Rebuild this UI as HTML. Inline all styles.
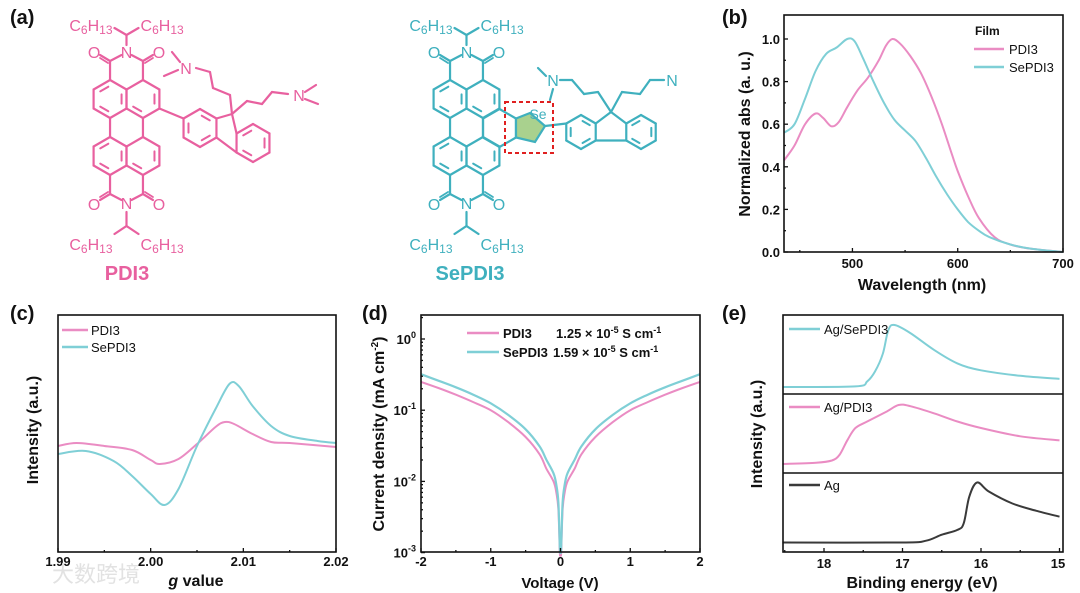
<!DOCTYPE html>
<html><head><meta charset="utf-8">
<style>
html,body{margin:0;padding:0;background:#fff;}
svg{display:block;font-family:"Liberation Sans","Noto Sans CJK SC",sans-serif;}
.t{font-weight:bold;fill:#111;}
</style></head>
<body>
<svg id="fig" width="1080" height="593" viewBox="0 0 1080 593" xmlns="http://www.w3.org/2000/svg">
<rect width="1080" height="593" fill="#fff"/>
<text x="10" y="24" class="t" font-size="20" fill="#333">(a)</text>
<text x="722" y="24" class="t" font-size="20">(b)</text>
<text x="10" y="320" class="t" font-size="20">(c)</text>
<text x="362" y="320" class="t" font-size="20">(d)</text>
<text x="722" y="320" class="t" font-size="20">(e)</text>
<g id="mol"></g>
<g id="charts"></g>
</svg>
<script>
// ---------- Panel (b) data ----------
const absPdiWl = [435,445,455,465,472,480,487,495,505,515,525,532,538,545,555,565,575,585,595,600,610,620,635,650,670,700];
const absPdiVal = [0.43,0.5,0.6,0.65,0.63,0.59,0.61,0.68,0.76,0.82,0.9,0.97,1.0,0.98,0.92,0.84,0.73,0.6,0.45,0.38,0.26,0.16,0.07,0.035,0.015,0.0];
const absSeWl = [435,445,455,465,475,485,495,502,510,520,530,540,550,560,570,580,590,600,610,620,630,650,670,700];
const absSeVal = [0.56,0.6,0.72,0.85,0.93,0.96,1.0,0.99,0.91,0.8,0.7,0.62,0.57,0.52,0.44,0.35,0.27,0.2,0.14,0.1,0.07,0.035,0.015,0.0];
const bXTicks = [500,600,700];
const bYTicks = [0,0.2,0.4,0.6,0.8,1.0];
// ---------- Panel (c) data ----------
const epdG = [1.99,1.992,1.995,1.998,2.0,2.001,2.003,2.005,2.007,2.008,2.009,2.011,2.013,2.015,2.02];
const epdPdi = [3,6,3,-1,-11,-15,-10,5,22,27,25,15,7,6,2];
const epsG = [1.99,1.993,1.996,1.998,2.0,2.0015,2.003,2.005,2.007,2.0085,2.0095,2.011,2.013,2.015,2.018,2.02];
const epsSe = [-5,-2,-12,-27,-45,-56,-40,3,40,65,63,43,23,13,8,6];
const cXTicks = ["1.99","2.00","2.01","2.02"];
// ---------- Panel (d) data ----------
const ivV = [-2,-1.75,-1.5,-1.25,-1,-0.75,-0.5,-0.3,-0.2,-0.1,-0.06,-0.03,-0.01,0,0.01,0.03,0.06,0.1,0.2,0.3,0.5,0.75,1,1.25,1.5,1.75,2];
const ivPdi = [0.25,0.205,0.165,0.13,0.1,0.068,0.042,0.024,0.015,0.01,0.007,0.004,0.001,0.001,0.001,0.004,0.007,0.01,0.015,0.024,0.042,0.068,0.1,0.13,0.165,0.205,0.25];
const ivSe = [0.32,0.26,0.21,0.165,0.125,0.086,0.054,0.031,0.02,0.013,0.009,0.005,0.0012,0.001,0.0012,0.005,0.009,0.013,0.02,0.031,0.054,0.086,0.125,0.165,0.21,0.26,0.32];
const dXTicks = [-2,-1,0,1,2];
const dYDecades = [0,-1,-2,-3];
// ---------- Panel (e) data ----------
const upsSeE = [18.53,17.6,17.45,17.35,17.25,17.18,17.1,16.9,16.6,16.3,16.0,15.5,15.0];
const upsSeI = [0,0.01,0.09,0.25,0.54,0.92,1.0,0.87,0.6,0.38,0.27,0.18,0.13];
const upsPdiE = [18.53,18.1,17.9,17.8,17.7,17.6,17.45,17.2,17.05,16.9,16.6,16.3,16.0,15.5,15.0];
const upsPdiI = [0,0.02,0.06,0.16,0.41,0.61,0.72,0.89,1,0.98,0.86,0.72,0.61,0.47,0.40];
const upsAgE = [18.53,17.0,16.7,16.5,16.3,16.22,16.15,16.05,15.9,15.6,15.3,15.0];
const upsAgI = [0,0,0.03,0.13,0.21,0.32,0.76,1,0.85,0.65,0.53,0.43];
const eXTicks = [18,17,16,15];

const NS="http://www.w3.org/2000/svg";
const charts=document.getElementById('charts');
const mol=document.getElementById('mol');
const PINK="#ea8cc3", CYAN="#7fcfd6", DARK="#3a3a3a";
function mk(tag,attrs,parent){const e=document.createElementNS(NS,tag);for(const k in attrs)e.setAttribute(k,attrs[k]);(parent||charts).appendChild(e);return e;}
function txt(x,y,s,size,anchor,parent,fill,weight){const e=mk('text',{x:x,y:y,'font-size':size,'text-anchor':anchor||'start',fill:fill||'#111','font-weight':weight||'bold'},parent);e.textContent=s;return e;}
function pathFrom(xs,ys,fx,fy){
  const p=xs.map((x,i)=>[fx(x),fy(ys[i])]);
  let d='M'+p[0][0].toFixed(1)+','+p[0][1].toFixed(1);
  for(let i=0;i<p.length-1;i++){
    const p0=p[Math.max(0,i-1)],p1=p[i],p2=p[i+1],p3=p[Math.min(p.length-1,i+2)];
    const t=1/6;
    const c1=[p1[0]+(p2[0]-p0[0])*t,p1[1]+(p2[1]-p0[1])*t];
    const c2=[p2[0]-(p3[0]-p1[0])*t,p2[1]-(p3[1]-p1[1])*t];
    d+='C'+c1[0].toFixed(1)+','+c1[1].toFixed(1)+' '+c2[0].toFixed(1)+','+c2[1].toFixed(1)+' '+p2[0].toFixed(1)+','+p2[1].toFixed(1);
  }
  return d;}
function frame(x0,y0,x1,y1){return mk('rect',{x:x0,y:y0,width:x1-x0,height:y1-y0,fill:'none',stroke:'#111','stroke-width':1.6});}
function tick(x1,y1,x2,y2){mk('line',{x1:x1,y1:y1,x2:x2,y2:y2,stroke:'#111','stroke-width':1.3});}

// ===== Panel b =====
{const X0=784,X1=1063,Y0=15,Y1=252;
 const fx=w=>X0+(w-435)*(X1-X0)/265, fy=v=>Y1-v*213;
 let e=mk('path',{d:pathFrom(absPdiWl,absPdiVal,fx,fy),fill:'none',stroke:PINK,'stroke-width':2});
 
 e=mk('path',{d:pathFrom(absSeWl,absSeVal,fx,fy),fill:'none',stroke:CYAN,'stroke-width':2});
 
 frame(X0,Y0,X1,Y1);
 bXTicks.forEach(t=>{tick(fx(t),Y1,fx(t),Y1-4);txt(fx(t),268,String(t),13,'middle');});
 [450,550,650].forEach(t=>tick(fx(t),Y1,fx(t),Y1-2));
 bYTicks.forEach(t=>{tick(X0,fy(t),X0+4,fy(t));txt(X0-4,fy(t)+5,t.toFixed(1),13,'end');});
 [0.1,0.3,0.5,0.7,0.9].forEach(t=>tick(X0,fy(t),X0+2,fy(t)));
 e=txt(922,290,'Wavelength (nm)',16,'middle');
 e=txt(0,0,'Normalized abs (a. u.)',16,'middle');e.setAttribute('transform','translate(750,134) rotate(-90)');
 
 txt(975,35,'Film',12,'start');
 mk('line',{x1:974,y1:49,x2:1004,y2:49,stroke:PINK,'stroke-width':2.5});txt(1009,54,'PDI3',13,'start',null,'#111','normal');
 mk('line',{x1:974,y1:67,x2:1004,y2:67,stroke:CYAN,'stroke-width':2.5});txt(1009,72,'SePDI3',13,'start',null,'#111','normal');
}
// ===== Panel c =====
{const X0=58,X1=336,Y0=315,Y1=552;
 const fx=g=>X0+(g-1.99)*(X1-X0)/0.03, fy=v=>449-v;
 let e=mk('path',{d:pathFrom(epdG,epdPdi,fx,fy),fill:'none',stroke:PINK,'stroke-width':2});
 
 e=mk('path',{d:pathFrom(epsG,epsSe,fx,fy),fill:'none',stroke:CYAN,'stroke-width':2});
 
 frame(X0,Y0,X1,Y1);
 cXTicks.forEach(t=>{const g=parseFloat(t);tick(fx(g),Y1,fx(g),Y1-4);txt(fx(g),566,t,13,'middle');});
 [1.995,2.005,2.015].forEach(t=>tick(fx(t),Y1,fx(t),Y1-2));
 txt(52,582,'大数跨境',22,'start',null,'#e2e2e2','normal');
 e=mk('text',{x:196,y:586,'font-size':16,'text-anchor':'middle','font-weight':'bold',fill:'#111'});
 e.innerHTML='<tspan font-style="italic">g</tspan> value';
 
 e=txt(0,0,'Intensity (a.u.)',16,'middle');e.setAttribute('transform','translate(38,430) rotate(-90)');
 
 mk('line',{x1:62,y1:330,x2:88,y2:330,stroke:PINK,'stroke-width':2.5});txt(91,335,'PDI3',13,'start',null,'#111','normal');
 mk('line',{x1:62,y1:347,x2:88,y2:347,stroke:CYAN,'stroke-width':2.5});txt(91,352,'SePDI3',13,'start',null,'#111','normal');
}
// ===== Panel d =====
{const X0=421,X1=700,Y0=315,Y1=552;
 const fx=v=>X0+(v+2)*(X1-X0)/4, fy=j=>339-Math.log10(j)*71.2;
 let e=mk('path',{d:pathFrom(ivV,ivPdi,fx,fy),fill:'none',stroke:PINK,'stroke-width':2});
 
 e=mk('path',{d:pathFrom(ivV,ivSe,fx,fy),fill:'none',stroke:CYAN,'stroke-width':2.2});
 
 frame(X0,Y0,X1,Y1);
 dXTicks.forEach(t=>{tick(fx(t),Y1,fx(t),Y1-4);txt(fx(t),566,String(t),13,'middle');});
 [-1.5,-0.5,0.5,1.5].forEach(t=>tick(fx(t),Y1,fx(t),Y1-2));
 dYDecades.forEach(p=>{const y=fy(Math.pow(10,p));tick(X0,y,X0+4,y);
   const l=mk('text',{x:X0-5,y:y+5,'font-size':13,'text-anchor':'end','font-weight':'bold',fill:'#111'});
   l.innerHTML='10<tspan dy="-6" font-size="9">'+p+'</tspan>';});
 [-3,-2,-1,0].forEach(p=>{for(let m=2;m<10;m++){const v=m*Math.pow(10,p);const y=fy(v);if(y>Y0&&y<Y1)tick(X0,y,X0+2,y);}});
 e=txt(560,588,'Voltage (V)',15,'middle');
 e=mk('text',{x:0,y:0,'font-size':16,'text-anchor':'middle','font-weight':'bold',fill:'#111',transform:'translate(384,434) rotate(-90)'});
 e.innerHTML='Current density (mA cm<tspan dy="-6" font-size="10">-2</tspan><tspan dy="6">)</tspan>';
 
 mk('line',{x1:467,y1:333,x2:499,y2:333,stroke:PINK,'stroke-width':2.5});
 txt(503,338,'PDI3',13,'start');
 let l=mk('text',{x:556,y:338,'font-size':13,'font-weight':'bold',fill:'#111'});l.innerHTML='1.25 × 10<tspan dy="-5" font-size="9">-5</tspan><tspan dy="5">  S cm</tspan><tspan dy="-5" font-size="9">-1</tspan>';
 mk('line',{x1:467,y1:352,x2:499,y2:352,stroke:CYAN,'stroke-width':2.5});
 txt(503,357,'SePDI3',13,'start');
 l=mk('text',{x:553,y:357,'font-size':13,'font-weight':'bold',fill:'#111'});l.innerHTML='1.59 × 10<tspan dy="-5" font-size="9">-5</tspan><tspan dy="5"> S cm</tspan><tspan dy="-5" font-size="9">-1</tspan>';
}
// ===== Panel e =====
{const X0=783,X1=1063,Y0=315,Y1=552;
 const fx=en=>824+(18-en)*78.5;
 const sub=[[upsSeE,upsSeI,387,62,CYAN,'ag-sepdi3-ups-line'],[upsPdiE,upsPdiI,464,59,PINK,'ag-pdi3-ups-line'],[upsAgE,upsAgI,542.5,60,DARK,'ag-ups-line']];
 sub.forEach(s=>{const e=mk('path',{d:pathFrom(s[0],s[1],fx,v=>s[2]-v*s[3]),fill:'none',stroke:s[4],'stroke-width':2});
   });
 frame(X0,Y0,X1,Y1);
 mk('line',{x1:X0,y1:394,x2:X1,y2:394,stroke:'#111','stroke-width':1.6});
 mk('line',{x1:X0,y1:473,x2:X1,y2:473,stroke:'#111','stroke-width':1.6});
 eXTicks.forEach(t=>{tick(fx(t),Y1,fx(t),Y1-4);txt(Math.min(fx(t),1058),568,String(t),13,'middle');});
 [18.5,17.5,16.5,15.5].forEach(t=>tick(fx(t),Y1,fx(t),Y1-2));
 let e=txt(922,588,'Binding energy (eV)',16,'middle');
 e=txt(0,0,'Intensity (a.u.)',16,'middle');e.setAttribute('transform','translate(762,434) rotate(-90)');
 
 mk('line',{x1:789,y1:329,x2:820,y2:329,stroke:CYAN,'stroke-width':2.5});txt(824,334,'Ag/SePDI3',13,'start',null,'#111','normal');
 mk('line',{x1:789,y1:407,x2:820,y2:407,stroke:PINK,'stroke-width':2.5});txt(824,412,'Ag/PDI3',13,'start',null,'#111','normal');
 mk('line',{x1:789,y1:485,x2:820,y2:485,stroke:DARK,'stroke-width':2.5});txt(824,490,'Ag',13,'start',null,'#111','normal');
}

// ===== Molecules =====
function L(a,b,col,w){mk('line',{x1:a[0],y1:a[1],x2:b[0],y2:b[1],stroke:col,'stroke-width':w||2.2,'stroke-linecap':'round'},mol);}
function hexV(cx,cy,s){const v=[];for(let k=0;k<6;k++){const a=(-90+60*k)*Math.PI/180;v.push([cx+s*Math.cos(a),cy+s*Math.sin(a)]);}return v;}
function ring(cx,cy,s,col,inner){const v=hexV(cx,cy,s);for(let k=0;k<6;k++)L(v[k],v[(k+1)%6],col);
  (inner||[]).forEach(k=>{const a=v[k],b=v[(k+1)%6];const f=0.7;
    const p=[cx+(a[0]-cx)*f,cy+(a[1]-cy)*f],q=[cx+(b[0]-cx)*f,cy+(b[1]-cy)*f];
    L([p[0]+(q[0]-p[0])*0.15,p[1]+(q[1]-p[1])*0.15],[q[0]-(q[0]-p[0])*0.15,q[1]-(q[1]-p[1])*0.15],col,2);});return v;}
function sub(x,y,anchor,col,size){const e=mk('text',{x:x,y:y,'font-size':size||16,'text-anchor':anchor,fill:col},mol);
  e.innerHTML='C<tspan font-size="12" dy="3">6</tspan><tspan dy="-3">H</tspan><tspan font-size="12" dy="3">13</tspan>';return e;}
function pdiCore(ox,col,s){
  const lx=ox-s*0.866, rx=ox+s*0.866, uy=99, ly=156;
  const UL=ring(lx,uy,s,col,[1,3,5]), UR=ring(rx,uy,s,col,[1,3]);
  const LL=ring(lx,ly,s,col,[1,3,5]), LR=ring(rx,ly,s,col,[1,3]);
  L(UL[3],LL[0],col);L(UR[3],LR[0],col);
  const ct1=[lx,61],ct2=[rx,61];
  L(UL[0],ct1,col);L(UR[0],ct2,col);L(ct1,[ox-5,55],col);L(ct2,[ox+5,55],col);
  L(ct1,[lx-10,55],col);L([lx-2,63],[lx-10,58],col,1.8);
  L(ct2,[rx+10,55],col);L([rx+2,63],[rx+10,58],col,1.8);
  txt(ox,58,'N',16,'middle',mol,col,'normal');txt(lx-16,58,'O',16,'middle',mol,col,'normal');txt(rx+16,58,'O',16,'middle',mol,col,'normal');
  L([ox,45],[ox,35],col);L([ox,35],[ox-12,28],col);L([ox,35],[ox+12,28],col);
  sub(ox-14,31,'end',col);sub(ox+14,31,'start',col);
  const cb1=[lx,194],cb2=[rx,194];
  L(LL[3],cb1,col);L(LR[3],cb2,col);L(cb1,[ox-5,200],col);L(cb2,[ox+5,200],col);
  L(cb1,[lx-10,200],col);L([lx-2,192],[lx-10,197],col,1.8);
  L(cb2,[rx+10,200],col);L([rx+2,192],[rx+10,197],col,1.8);
  txt(ox,209,'N',16,'middle',mol,col,'normal');txt(lx-16,210,'O',16,'middle',mol,col,'normal');txt(rx+16,210,'O',16,'middle',mol,col,'normal');
  L([ox,212],[ox,226],col);L([ox,226],[ox-12,234],col);L([ox,226],[ox+12,234],col);
  sub(ox-14,250,'end',col);sub(ox+14,250,'start',col);
  return {UL,UR,LL,LR};
}
const PC="#e8609f", SC="#3fb0be";
{const c=pdiCore(126.5,PC,19);
 const A=ring(200,128,19,PC,[0,2,4]);const B=ring(253,143,19,PC,[1,3,5]);
 L(c.UR[2],A[5],PC);
 const C9=[232,114];L(A[1],C9,PC);L(C9,B[5],PC);L(A[2],B[4],PC);
 L(C9,[230,95],PC);L([230,95],[213,88],PC);L([213,88],[210,72],PC);L([210,72],[196,68],PC);
 txt(186,74,'N',16,'middle',mol,PC,'normal');L([178,70],[164,76],PC);L([180,62],[172,52],PC);
 L(C9,[247,101],PC);L([247,101],[262,104],PC);L([262,104],[272,92],PC);L([272,92],[288,94],PC);
 txt(299,101,'N',16,'middle',mol,PC,'normal');L([305,92],[316,85],PC);L([305,99],[318,104],PC);
 let e=txt(127,280,'PDI3',20,'middle',mol,PC,'bold');
}
{const c=pdiCore(466.5,SC,19);
 ring(499.5,128,19,SC,[]);
 mk('path',{d:'M516,118.5 L530,113 L545,126 L535,142 L516,137.5 Z',fill:'#a9d18e',stroke:SC,'stroke-width':2.2},mol);
 txt(538,119,'Se',14,'middle',mol,SC,'normal');
 const A=ring(581,132,17,SC,[0,2,4]);const B=ring(641,132,17,SC,[1,3,5]);
 L([545,126],A[5],SC);
 const C9=[611,112];L(A[1],C9,SC);L(C9,B[5],SC);L(A[2],B[4],SC);
 L(C9,[598,92],SC);L([598,92],[584,94],SC);L([584,94],[572,80],SC);L([572,80],[560,80],SC);
 txt(553,86,'N',16,'middle',mol,SC,'normal');L([546,76],[538,68],SC);L([553,89],[550,100],SC);
 L(C9,[622,92],SC);L([622,92],[640,94],SC);L([640,94],[650,80],SC);L([650,80],[664,80],SC);
 txt(672,86,'N',16,'middle',mol,SC,'normal');
 mk('rect',{x:505,y:102,width:48,height:51,fill:'none',stroke:'#e02020','stroke-width':2,'stroke-dasharray':'4,3'},mol);
 let e=txt(470,280,'SePDI3',20,'middle',mol,SC,'bold');
}
</script>
</body></html>
